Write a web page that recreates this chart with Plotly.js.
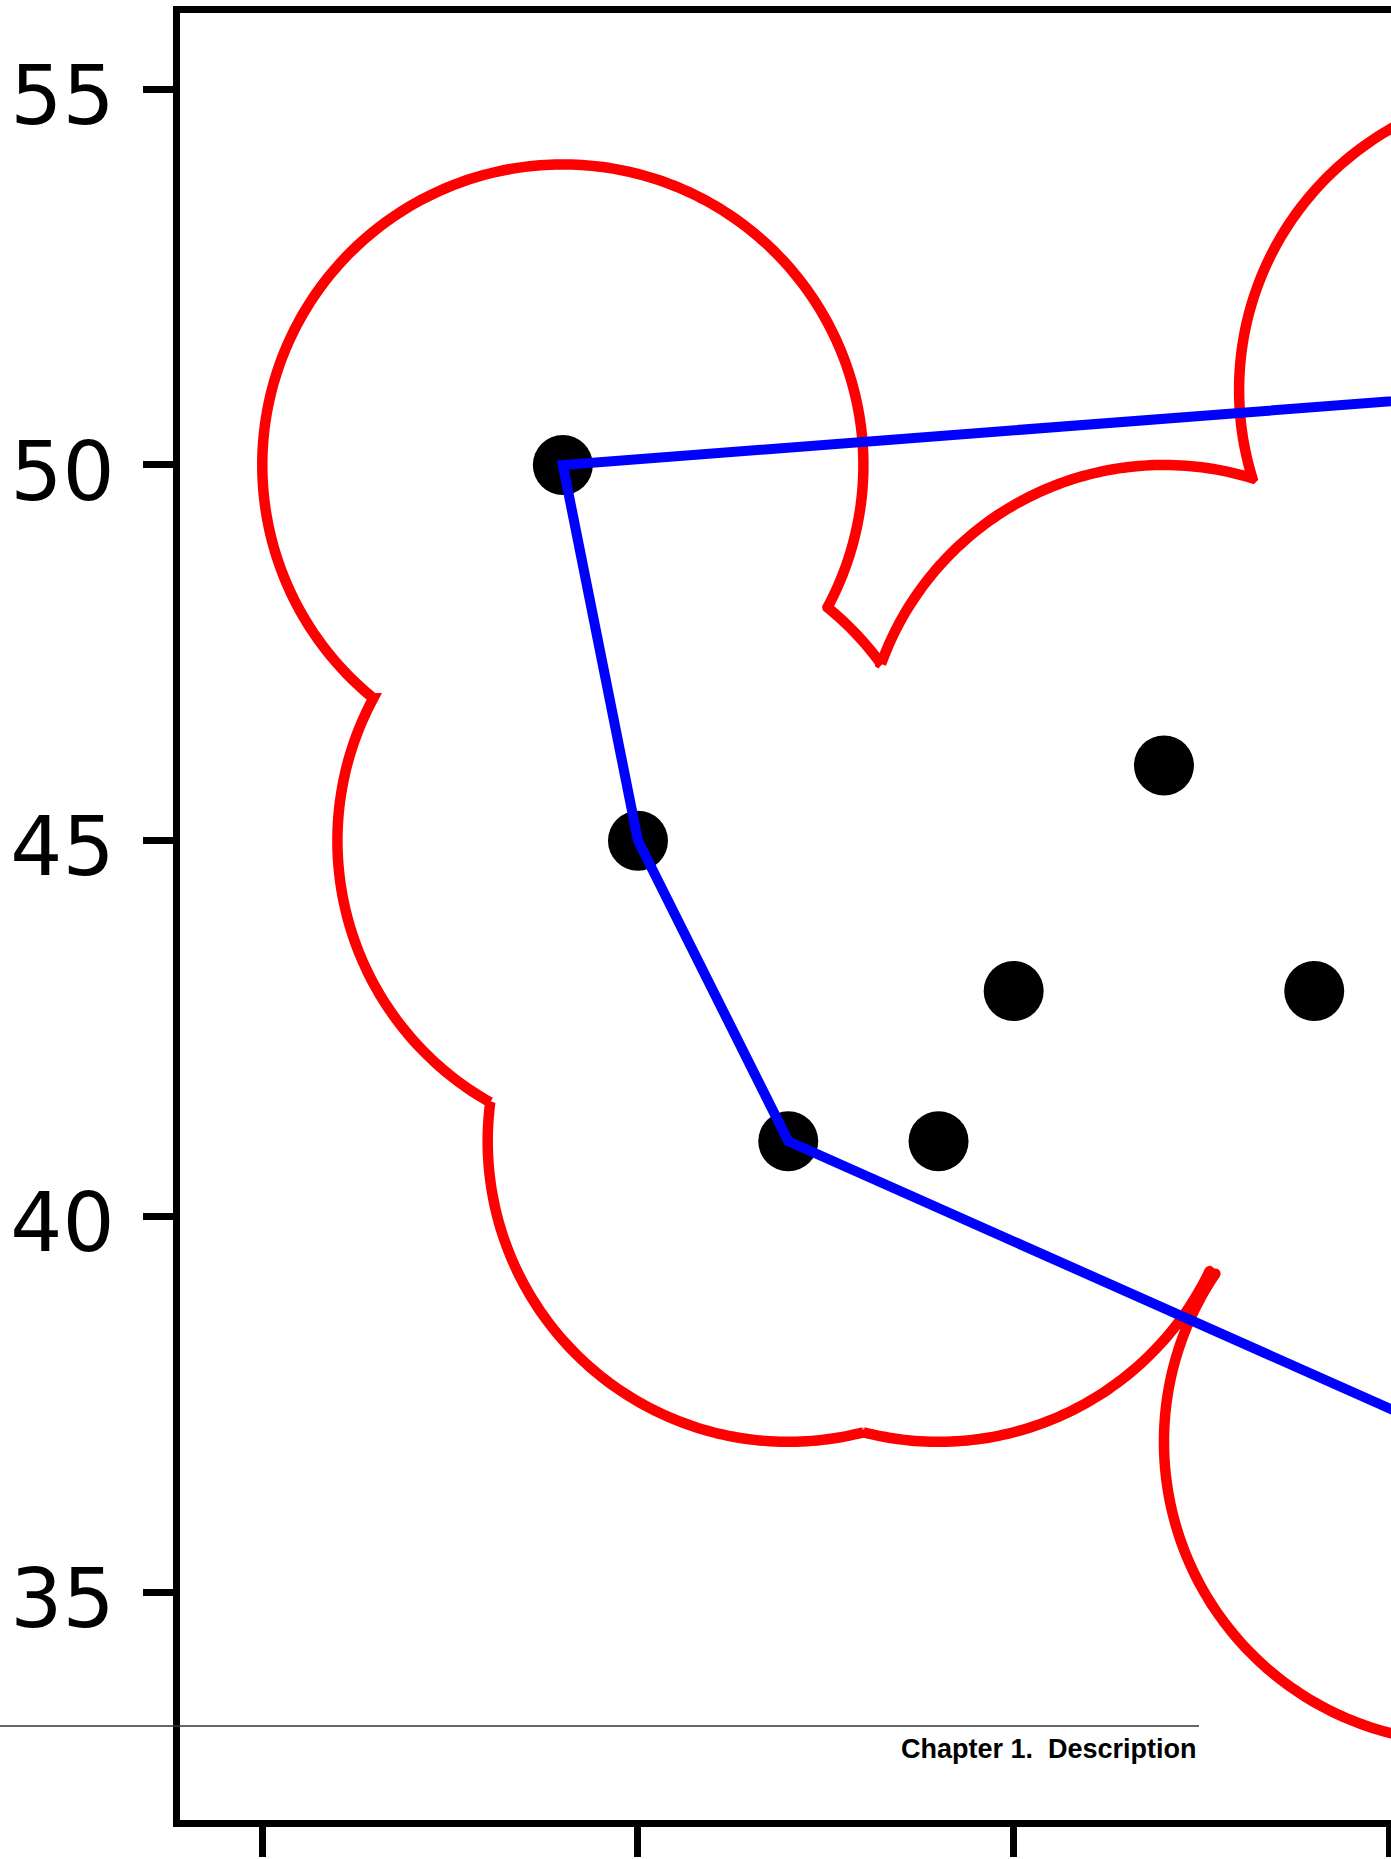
<!DOCTYPE html>
<html>
<head>
<meta charset="utf-8">
<script src="https://cdn.plot.ly/plotly-3.0.1.min.js"></script>
<style>
  html, body { margin: 0; padding: 0; background: #ffffff; overflow: hidden; }
  #wrap { position: relative; width: 1391px; height: 1859px; overflow: hidden; background: #fff; }
  #chart { position: absolute; left: 0; top: 0; }
  .scatterlayer path.js-line { stroke-linecap: round; }
</style>
</head>
<body>
<div id="wrap"><div id="chart"></div></div>
<script>
// ---- data ----
// point locations (black dots)
const pointX = [-1, 0, 2, 4, 5, 7, 9, 12, 11];
const pointY = [50, 45, 41, 41, 43, 46, 43, 51, 37];

// outer hull path (blue)
const hullX = [12, -1, 0, 2, 11];
const hullY = [51, 50, 45, 41, 37];

// buffered outline (red): arcs of radius 4 around points, traced clockwise
const bufferRadius = 4;
const arcCenterX = [4, 2, 0, -1, 0, 7, 12, 11];
const arcCenterY = [41, 41, 45, 50, 45, 46, 51, 37];
const arcStartDeg = [-25.6, -75.52, 240.55, 230.9, 50.9, 160.25, 197.1, 0];
const arcEndDeg   = [-104.48, -187.43, 151.71, -28.28, 36.0, 72.9, 0, -214];

// y axis tick labels
const yTickVals = [35, 40, 45, 50, 55];
const yTickText = ['35', '40', '45', '50', '55'];
const xTickVals = [-5, 0, 5, 10];

const footerText = 'Chapter 1.\u00a0 Description';

// ---- build red outline from the arc table ----
const redX = [], redY = [];
for (let i = 0; i < arcCenterX.length; i++) {
  const a0 = arcStartDeg[i], a1 = arcEndDeg[i];
  const n = Math.max(2, Math.ceil(Math.abs(a1 - a0) / 1.0));
  for (let k = 0; k <= n; k++) {
    const a = (a0 + (a1 - a0) * k / n) * Math.PI / 180;
    redX.push(arcCenterX[i] + bufferRadius * Math.cos(a));
    redY.push(arcCenterY[i] + bufferRadius * Math.sin(a));
  }
}

const traces = [
  { type: 'scatter', mode: 'lines', x: redX, y: redY,
    line: { color: '#ff0000', width: 10.5, simplify: false }, hoverinfo: 'skip', showlegend: false },
  { type: 'scatter', mode: 'markers', x: pointX, y: pointY,
    marker: { color: '#000000', size: 60, line: { width: 0 } }, showlegend: false },
  { type: 'scatter', mode: 'lines', x: hullX, y: hullY,
    line: { color: '#0000ff', width: 10, simplify: false }, showlegend: false }
];

// ---- layout (pixel geometry) ----
const W = 1620, H = 1920;
const L = 180, T = 13, R = 20, B = 100;
const PW = W - L - R, PH = H - T - B;
const px2paperX = p => (p - L) / PW;
const px2paperY = p => (H - B - p) / PH;

const layout = {
  width: W, height: H,
  margin: { l: L, r: R, t: T, b: B, pad: 0 },
  paper_bgcolor: '#ffffff', plot_bgcolor: '#ffffff',
  showlegend: false,
  xaxis: {
    range: [-6.095, 12.803], autorange: false,
    tickvals: xTickVals, showticklabels: false,
    ticks: 'outside', ticklen: 30, tickwidth: 7, tickcolor: '#000',
    showline: true, linewidth: 7, linecolor: '#000', mirror: true,
    showgrid: false, zeroline: false, automargin: false
  },
  yaxis: {
    range: [31.967, 56.015], autorange: false,
    tickvals: yTickVals, ticktext: yTickText,
    ticks: 'outside', ticklen: 30, tickwidth: 7, tickcolor: '#000',
    ticklabelstandoff: 12, ticklabelshift: 6,
    tickfont: { family: 'DejaVu Sans', size: 82, color: '#000' },
    showline: true, linewidth: 7, linecolor: '#000', mirror: true,
    showgrid: false, zeroline: false, automargin: false
  },
  shapes: [
    { type: 'line', xref: 'paper', yref: 'paper',
      x0: px2paperX(0), x1: px2paperX(1199), y0: px2paperY(1726), y1: px2paperY(1726),
      line: { color: '#333333', width: 1.3 }, layer: 'above' }
  ],
  annotations: [
    { xref: 'paper', yref: 'paper', x: px2paperX(1199), y: px2paperY(1749),
      xanchor: 'right', yanchor: 'middle', showarrow: false,
      text: '<b>' + footerText + '</b>',
      font: { family: 'Liberation Sans, Arial, sans-serif', size: 27, color: '#000' } }
  ]
};

Plotly.newPlot('chart', traces, layout, { staticPlot: true, displayModeBar: false });
</script>
</body>
</html>
